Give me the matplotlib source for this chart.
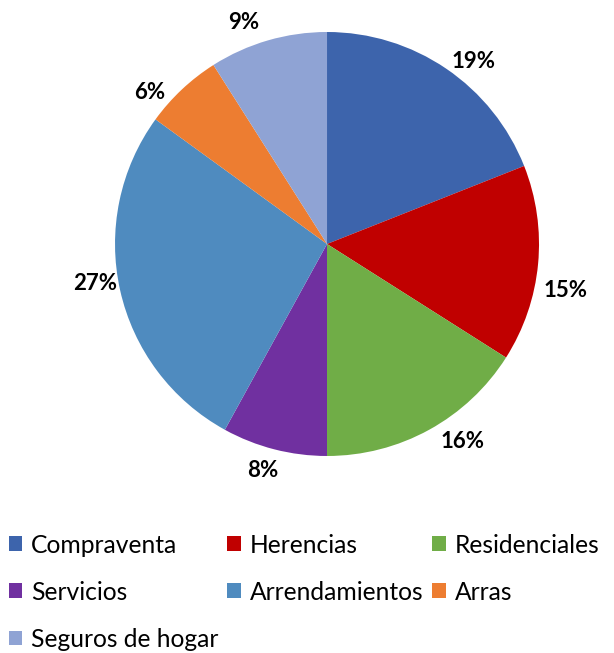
import matplotlib.pyplot as plt

# datos del gráfico
categorias = ['Compraventa', 'Herencias', 'Residenciales', 'Servicios',
              'Arrendamientos', 'Arras', 'Seguros de hogar']
porcentajes = [19, 15, 16, 8, 27, 6, 9]
colores = ['#3D64AC', '#C00000', '#70AD47', '#7030A0',
           '#4F8BBF', '#ED7D31', '#8FA3D4']

# posición de las etiquetas (en radios, como en el original de Excel)
pos_etiquetas = [(0.689, 0.868), (1.127, -0.212), (0.637, -0.920),
                 (-0.302, -1.057), (-1.094, -0.179), (-0.835, 0.726),
                 (-0.392, 1.052)]

plt.rcParams['font.family'] = ['Lato', 'DejaVu Sans']

fig = plt.figure(figsize=(6.14, 6.53), dpi=100)
ax = fig.add_axes([0.1873, 0.3017, 0.6906, 0.6493])

cunas, textos, autotextos = ax.pie(
    porcentajes, colors=colores, startangle=90, counterclock=False,
    autopct='%1.0f%%', pctdistance=1.12, radius=1.0,
    wedgeprops={'linewidth': 0},
    textprops={'fontsize': 16, 'fontweight': 'bold', 'color': 'black'})
for t, p in zip(autotextos, pos_etiquetas):
    t.set_position(p)
    t.set_va('center_baseline')
ax.set_xlim(-1, 1)
ax.set_ylim(-1, 1)
ax.set_aspect('equal')

# leyenda en filas (matplotlib llena por columnas)
orden = [0, 3, 6, 1, 4, 2, 5]
leg = fig.legend([cunas[i] for i in orden], [categorias[i] for i in orden],
                 ncol=3, loc='upper left', bbox_to_anchor=(0.014, 0.183),
                 frameon=False, fontsize=17.7, handlelength=0.55, handleheight=0.55,
                 handletextpad=0.37, columnspacing=0.35, labelspacing=0.98,
                 borderaxespad=0, borderpad=0)

fig.savefig('out.png', dpi=100)
